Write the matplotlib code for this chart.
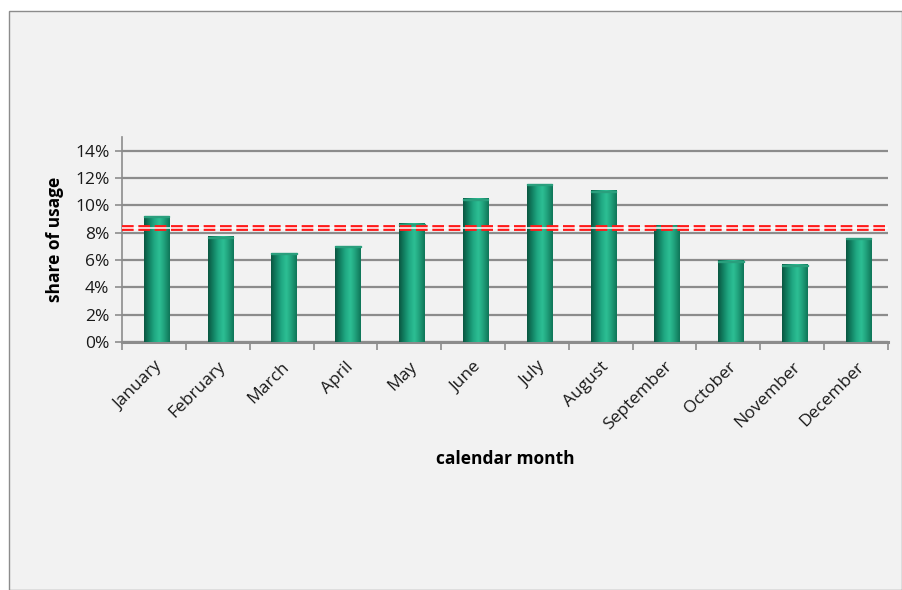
import numpy as np
import matplotlib
matplotlib.use("Agg")
import matplotlib.pyplot as plt
from matplotlib.colors import LinearSegmentedColormap
from matplotlib.patches import Rectangle
from matplotlib.ticker import FuncFormatter, FixedLocator

months = ["January", "February", "March", "April", "May", "June", "July",
          "August", "September", "October", "November", "December"]
share = [9.2, 7.7, 6.5, 7.0, 8.65, 10.5, 11.55, 11.05, 8.5, 5.95, 5.65, 7.6]
mean_share = 100.0 / 12

plt.rcParams["font.family"] = ["Open Sans", "DejaVu Sans"]

fig = plt.figure(figsize=(9.03, 5.9), dpi=100)
fig.patch.set_facecolor("white")
# chart area frame, kept behind the axes
fig.patches.append(Rectangle((9 / 903, 0.0), 893 / 903, 1 - 11 / 590,
                             transform=fig.transFigure, facecolor="#f2f2f2",
                             edgecolor="#8c8c8c", lw=1.0, zorder=-10))

ax = fig.add_axes([122 / 903, 1 - 342 / 590, 766 / 903, 205 / 590])
ax.set_facecolor("none")
ax.set_xlim(-0.5, len(months) - 0.5)
ax.set_ylim(0, 15)

# cylinder-like shading across each bar
cyl = LinearSegmentedColormap.from_list(
    "cyl", ["#0a5641", "#128263", "#20a983", "#2dbf94", "#1f9e79", "#0f7558"])
grad = np.linspace(0, 1, 64).reshape(1, -1)
w = 0.40
for i, v in enumerate(share):
    x = i + 0.04
    ax.imshow(grad, cmap=cyl, aspect="auto", extent=(x - w / 2, x + w / 2, 0, v),
              interpolation="bicubic", zorder=3)
    ax.add_patch(Rectangle((x - w / 2, v - 0.08), w, 0.08, color="#2a9f7d", zorder=4))

# average line (1/12)
ax.axhline(mean_share, color="#ff1a1a", lw=4.2, ls=(0, (2.0, 0.8)), zorder=5)
ax.axhline(mean_share, color="white", lw=1.1, zorder=6)

ax.yaxis.set_major_locator(FixedLocator(np.arange(0, 15, 2)))
ax.yaxis.set_major_formatter(FuncFormatter(lambda v, _: f"{v:.0f}%"))
ax.grid(axis="y", color="#8c8c8c", lw=1.6, zorder=1)
ax.set_axisbelow(True)

ax.set_xticks(np.arange(len(months)))
ax.set_xticklabels(months, rotation=45, ha="right", rotation_mode="anchor")
ax.set_xticks(np.arange(len(months) + 1) - 0.5, minor=True)
ax.tick_params(axis="x", which="major", length=0, pad=12, labelsize=12.5, colors="#1a1a1a")
ax.tick_params(axis="x", which="minor", length=6, color="#8c8c8c", width=1.2)
ax.tick_params(axis="y", length=5, color="#8c8c8c", width=1.2, labelsize=12.5,
               colors="#1a1a1a", pad=4)

for s in ("top", "right"):
    ax.spines[s].set_visible(False)
ax.spines["left"].set_color("#8c8c8c")
ax.spines["left"].set_linewidth(1.2)
ax.spines["bottom"].set_color("#8c8c8c")
ax.spines["bottom"].set_linewidth(2.2)

ax.set_xlabel("calendar month", fontsize=12.5, fontweight="bold", labelpad=12)
ax.set_ylabel("share of usage", fontsize=12.5, fontweight="bold", labelpad=8)

fig.savefig("out.png", dpi=100)
